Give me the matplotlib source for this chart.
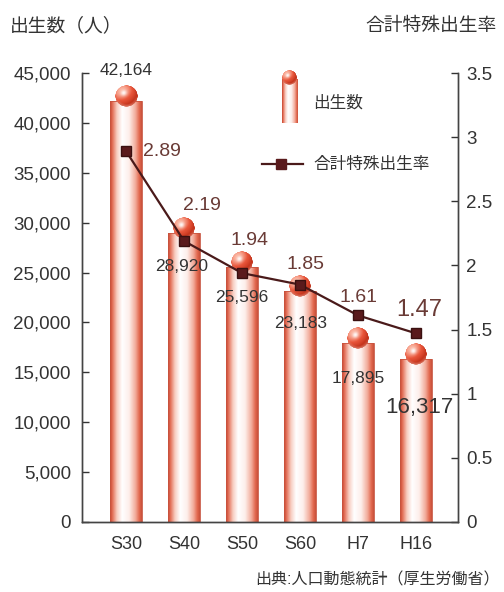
import numpy as np
import matplotlib
matplotlib.use("Agg")
import matplotlib.pyplot as plt
from matplotlib.colors import LinearSegmentedColormap, to_rgb
from matplotlib.offsetbox import OffsetImage, AnnotationBbox
from matplotlib.ticker import FuncFormatter, MultipleLocator

plt.rcParams['font.family'] = ['Liberation Sans', 'Noto Sans CJK JP', 'DejaVu Sans']

# data
years = ['S30', 'S40', 'S50', 'S60', 'H7', 'H16']
births = [42164, 28920, 25596, 23183, 17895, 16317]
fertility = [2.89, 2.19, 1.94, 1.85, 1.61, 1.47]

# label offsets in pixels (dx, dy), dy up
birth_label_offsets = [(0, 31), (-2, -33), (0, -31), (0, -33), (0, -35), (3, -48)]
rate_label_offsets = [(36, 0), (18, 36), (7, 33), (5, 20), (0, 18), (3, 23)]

TEXT = '#333333'
RATE_TEXT = '#6a3b36'
LINE = '#4a1a1a'

cyl_cmap = LinearSegmentedColormap.from_list('cyl', [
    (0.00, '#c4422c'), (0.08, '#e4715a'), (0.22, '#f8cec2'),
    (0.38, '#ffffff'), (0.60, '#fdeeea'), (0.80, '#f2ab9a'),
    (0.92, '#e2684e'), (1.00, '#c8503a')])


def sphere_image(n=64):
    # shaded red ball as an RGBA array
    yy, xx = np.mgrid[-1:1:n * 1j, -1:1:n * 1j]
    yy = -yy
    r = np.sqrt(xx ** 2 + yy ** 2)
    z = np.sqrt(np.clip(1 - r ** 2, 0, 1))
    light = np.array([-0.45, 0.55, 0.70])
    light /= np.linalg.norm(light)
    diff = np.clip(xx * light[0] + yy * light[1] + z * light[2], 0, 1)
    half = light + np.array([0, 0, 1.0])
    half /= np.linalg.norm(half)
    spec = np.clip(xx * half[0] + yy * half[1] + z * half[2], 0, 1) ** 25
    dark = np.array(to_rgb('#c4341c'))
    mid = np.array(to_rgb('#e8553a'))
    lite = np.array(to_rgb('#fbb4a0'))
    d = diff[..., None]
    rgb = np.where(d < 0.55, dark + (mid - dark) * (d / 0.55),
                   mid + (lite - mid) * ((d - 0.55) / 0.45))
    # soft reflected light along the lower rim
    rim = np.clip((r - 0.7) / 0.3, 0, 1) * np.clip(-yy, 0, 1)
    rgb = rgb + (np.array([1, 0.88, 0.84]) - rgb) * 0.5 * rim[..., None]
    rgb = rgb + (1 - rgb) * spec[..., None] * 0.9
    alpha = np.clip((1 - r) * n / 2, 0, 1)
    return np.dstack([np.clip(rgb, 0, 1), alpha])


BALL = sphere_image()

fig = plt.figure(figsize=(5.04, 5.92), dpi=100)
ax = fig.add_axes([82 / 504, 1 - 522 / 592, 376 / 504, 449 / 592])
ax2 = ax.twinx()

x = np.arange(len(years))
bar_w = 0.55
grad = np.linspace(0, 1, 256)[None, :]

bars = ax.bar(x, births, width=bar_w, color='none', edgecolor='#c8543f',
              linewidth=0.6, zorder=2)
for xi, val, bar in zip(x, births, bars):
    im = ax.imshow(grad, cmap=cyl_cmap, aspect='auto', zorder=1.5,
                   extent=[xi - bar_w / 2, xi + bar_w / 2, 0, val])
    im.set_clip_path(bar)
    ball = AnnotationBbox(OffsetImage(BALL, zoom=22 / 64 * 0.72), (xi, val),
                          xybox=(0, 5), xycoords='data', boxcoords='offset pixels',
                          frameon=False, pad=0, zorder=3)
    ax.add_artist(ball)

for xi, val, (dx, dy) in zip(x, births, birth_label_offsets):
    size = 16 if val == births[-1] else 12.5
    ax.annotate(f'{val:,}', (xi, val), xytext=(dx, dy), textcoords='offset pixels',
                ha='center', va='center', fontsize=size, color=TEXT, zorder=4)

ax.set_xlim(-0.76, 5.72)
ax.set_ylim(0, 45000)
ax.yaxis.set_major_locator(MultipleLocator(5000))
ax.yaxis.set_major_formatter(FuncFormatter(lambda v, p: f'{int(v):,}'))
ax.set_xticks(x)
ax.set_xticklabels(years)
ax.tick_params(axis='x', length=0, pad=10, labelsize=13, colors=TEXT)
ax.tick_params(axis='y', direction='in', length=5, width=1, pad=8,
               labelsize=13.5, colors=TEXT)

# fertility rate line
ax2.plot(x, fertility, color=LINE, lw=1.6, marker='s', markersize=6.5,
         markerfacecolor='#5a1a1c', markeredgecolor='#3a1010', zorder=5)
for xi, val, (dx, dy) in zip(x, fertility, rate_label_offsets):
    size = 17 if val == fertility[-1] else 14
    ax2.annotate(f'{val:.2f}', (xi, val), xytext=(dx, dy), textcoords='offset pixels',
                 ha='center', va='center', fontsize=size, color=RATE_TEXT)
ax2.set_ylim(0, 3.5)
ax2.yaxis.set_major_locator(MultipleLocator(0.5))
ax2.yaxis.set_major_formatter(FuncFormatter(lambda v, p: f'{v:g}'))
ax2.tick_params(axis='y', direction='in', length=5, width=1, pad=6,
                labelsize=13.5, colors=TEXT)

for a in (ax, ax2):
    a.spines['top'].set_visible(False)
    for s in ('left', 'right', 'bottom'):
        a.spines[s].set_color('#444444')
        a.spines[s].set_linewidth(1)

# legend, drawn by hand
icon = fig.add_axes([282 / 504, 1 - 123 / 592, 16 / 504, 44 / 592])
icon.imshow(grad, cmap=cyl_cmap, aspect='auto', extent=[0, 1, 0, 1])
icon.set_axis_off()
fig.add_artist(AnnotationBbox(OffsetImage(BALL, zoom=15 / 64 * 0.72),
                              (289.5 / 504, 1 - 78 / 592), xycoords='figure fraction',
                              frameon=False, pad=0))
ax.text(0.615, 0.933, '出生数', transform=ax.transAxes, fontsize=12,
        color=TEXT, va='center', ha='left')
ax.plot([0.478, 0.588], [0.797, 0.797], transform=ax.transAxes, color=LINE,
        lw=1.6, clip_on=False, zorder=6)
ax.plot([0.53], [0.797], transform=ax.transAxes, marker='s', markersize=6.5,
        color='#5a1a1c', clip_on=False, zorder=6)
ax.text(0.615, 0.797, '合計特殊出生率', transform=ax.transAxes, fontsize=12,
        color=TEXT, va='center', ha='left')

# axis titles and source
fig.text(10 / 504, 1 - 26 / 592, '出生数（人）', fontsize=13.5, color=TEXT,
         ha='left', va='center')
fig.text(497 / 504, 1 - 26 / 592, '合計特殊出生率', fontsize=13.5, color=TEXT,
         ha='right', va='center')
fig.text(500 / 504, 1 - 580 / 592, '出典:人口動態統計（厚生労働省）', fontsize=11.5,
         color=TEXT, ha='right', va='center')

fig.savefig('out.png', dpi=100)
